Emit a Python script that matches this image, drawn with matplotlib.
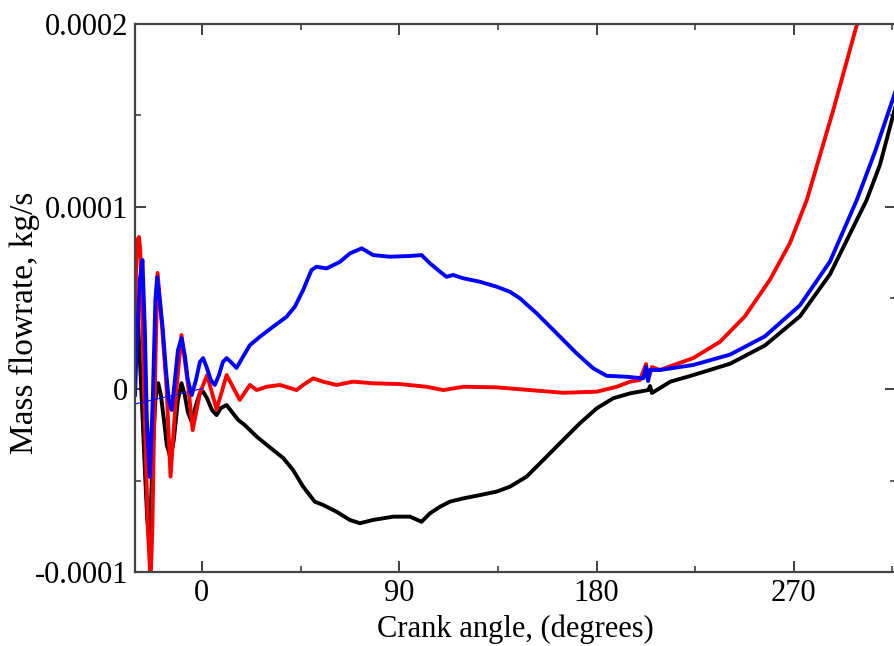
import matplotlib
matplotlib.use("Agg")
import matplotlib.pyplot as plt
from matplotlib.ticker import MultipleLocator, FixedLocator

plt.rcParams['font.family'] = ['Liberation Serif', 'DejaVu Serif']
plt.rcParams['axes.unicode_minus'] = False

# crank angle (deg) / mass flowrate (1e-5 kg/s)
black_x = [-30.5, -29.6, -28.7, -27.4, -26.0, -24.9, -24.0, -23.3, -22.4, -21.2, -19.9, -18.7,
           -17.3, -16.0, -14.3, -12.8, -10.9, -9.3, -7.8, -6.4, -4.7, -2.7, -0.9, 0.6, 2.3, 4.6,
           6.7, 8.7, 11.3, 13.7, 16.6, 19.6, 25.0, 32.5, 37.1, 41.6, 46.2, 51.5, 55.3, 61.4,
           67.5, 72.1, 78.1, 87.3, 94.9, 100.2, 104.0, 108.6, 113.1, 119.2, 126.8, 134.4,
           140.5, 148.1, 155.7, 164.8, 172.4, 180.1, 187.6, 195.3, 203.6, 204.4, 205.3, 213.7,
           224.1, 240.9, 256.8, 272.8, 286.5, 303.2, 309.3, 316.6]
black_y = [3.79, 4.61, 2.70, -0.58, -4.42, -7.15, -8.25, -6.60, -3.32, -0.58, 0.34, -0.31,
           -1.68, -3.05, -3.76, -2.77, -0.58, 0.34, -0.31, -1.24, -1.77, -0.86, -0.20, -0.13,
           -0.48, -1.13, -1.41, -1.02, -0.86, -1.24, -1.68, -1.96, -2.59, -3.32, -3.76, -4.42,
           -5.33, -6.15, -6.33, -6.70, -7.15, -7.33, -7.15, -6.97, -6.97, -7.25, -6.79, -6.43,
           -6.15, -5.97, -5.79, -5.60, -5.33, -4.78, -3.87, -2.77, -1.86, -1.04, -0.49, -0.22,
           -0.04, 0.18, -0.20, 0.42, 0.78, 1.40, 2.40, 4.00, 6.30, 10.36, 12.3, 15.6]

red_x = [-30.5, -29.9, -29.4, -28.7, -28.1, -27.4, -26.5, -25.5, -24.6, -23.4, -22.6, -21.9,
         -21.1, -20.2, -18.4, -16.1, -14.3, -11.5, -9.3, -6.2, -4.2, -0.9, 2.4, 6.7, 11.3,
         17.3, 21.9, 25.0, 29.5, 35.6, 43.2, 46.2, 50.8, 55.3, 61.4, 69.0, 78.1, 90.3, 102.5,
         110.1, 119.2, 134.4, 149.6, 164.8, 180.1, 189.2, 195.3, 199.8, 202.6, 203.5, 205.3,
         208.9, 224.1, 236.3, 247.7, 259.1, 268.2, 275.9, 288.0, 298.7, 302.5]
red_y = [3.79, 7.08, 8.18, 8.34, 7.62, 4.89, 0.51, -3.87, -7.70, -10.5, -7.70, -2.77,
         1.99, 6.37, 3.79, 0.14, -4.78, 0.14, 2.97, 0.14, -2.23, -0.20, 0.78, -1.10, 0.78,
         -0.58, 0.24, -0.04, 0.14, 0.24, -0.04, 0.24, 0.60, 0.42, 0.24, 0.42, 0.33, 0.29, 0.14,
         -0.04, 0.14, 0.11, -0.04, -0.19, -0.13, 0.14, 0.42, 0.51, 1.38, 0.51, 1.22,
         1.06, 1.71, 2.60, 4.00, 6.00, 8.00, 10.36, 15.29, 19.94, 21.0]

blue_x = [-30.5, -29.6, -28.3, -27.1, -26.0, -25.1, -23.7, -22.4, -21.2, -20.4, -19.2, -17.8,
          -16.4, -15.1, -13.8, -12.3, -10.9, -9.3, -7.8, -6.4, -4.6, -2.7, -0.9, 0.6, 2.3, 4.1,
          5.9, 7.8, 9.6, 11.3, 13.2, 15.8, 18.7, 21.9, 26.5, 32.5, 38.6, 42.4, 46.2, 50.0,
          52.3, 56.9, 63.0, 67.5, 72.9, 78.1, 85.8, 94.9, 100.2, 104.0, 108.6, 111.6, 114.6,
          119.2, 126.8, 134.4, 140.5, 145.1, 152.7, 161.8, 170.9, 178.5, 184.6, 193.7, 201.3,
          202.6, 203.5, 204.4, 208.9, 224.0, 240.9, 256.8, 272.8, 286.5, 298.7, 307.0, 316.6]
blue_y = [-0.31, 2.70, 5.99, 7.08, 3.25, -1.68, -4.80, -0.58, 4.89, 6.15, 4.89, 3.25,
          1.06, -0.58, -1.13, 0.51, 2.15, 2.81, 1.88, 0.51, -0.31, 0.51, 1.50, 1.71, 1.17, 0.51,
          0.24, 0.78, 1.50, 1.71, 1.50, 1.17, 1.77, 2.42, 2.88, 3.43, 3.97, 4.52, 5.44, 6.53,
          6.71, 6.62, 6.98, 7.44, 7.72, 7.35, 7.26, 7.30, 7.35, 6.90, 6.44, 6.16, 6.26,
          6.08, 5.89, 5.62, 5.34, 4.98, 4.16, 3.07, 1.97, 1.15, 0.74, 0.69, 0.60,
          1.22, 0.45, 1.06, 1.06, 1.33, 1.90, 2.90, 4.60, 7.00, 10.36, 13.0, 16.4]

# thin wrap-around segment of the blue trace
blue_wrap_x = [-30.5, 0.6]
blue_wrap_y = [-0.8, 0.05]

y_ticks = [-0.0001, 0, 0.0001, 0.0002]
y_labels = ['-0.0001', '0', '0.0001', '0.0002']
x_ticks = [0, 90, 180, 270]

fig = plt.figure(figsize=(8.95, 6.46), dpi=100)
ax = fig.add_axes([135 / 895, 74 / 646, 761 / 895, 548 / 646])

sc = 1e-5
ax.plot(black_x, [v * sc for v in black_y], color='black', lw=2.8, solid_joinstyle='round')
ax.plot(red_x, [v * sc for v in red_y], color='#ff0000', lw=2.8, solid_joinstyle='round')
ax.plot(blue_x, [v * sc for v in blue_y], color='#0000ff', lw=2.8, solid_joinstyle='round')
ax.plot(blue_wrap_x, [v * sc for v in blue_wrap_y], color='#0000ff', lw=0.8)

ax.set_xlim(-30.5, 316.6)
ax.set_ylim(-0.0001, 0.0002)
ax.xaxis.set_major_locator(FixedLocator(x_ticks))
ax.xaxis.set_minor_locator(MultipleLocator(45))
ax.yaxis.set_major_locator(FixedLocator(y_ticks))
ax.yaxis.set_minor_locator(MultipleLocator(0.00005))
ax.set_yticklabels(y_labels)

ax.tick_params(which='both', direction='in', top=True, right=True, colors='#333333',
               labelcolor='black', labelsize=22)
ax.tick_params(which='major', length=8, width=1.3)
ax.tick_params(which='minor', length=4, width=1.1)
ax.tick_params(axis='x', pad=5)
ax.tick_params(axis='y', pad=5)
for s in ax.spines.values():
    s.set_color('#444444')
    s.set_linewidth(1.6)

ax.set_xlabel('Crank angle, (degrees)', fontsize=22)
ax.set_ylabel('Mass flowrate, kg/s', fontsize=24)
ax.xaxis.set_label_coords(0.5, -0.077)
ax.yaxis.set_label_coords(-0.125, 0.455)

fig.savefig('out.png', dpi=100)
